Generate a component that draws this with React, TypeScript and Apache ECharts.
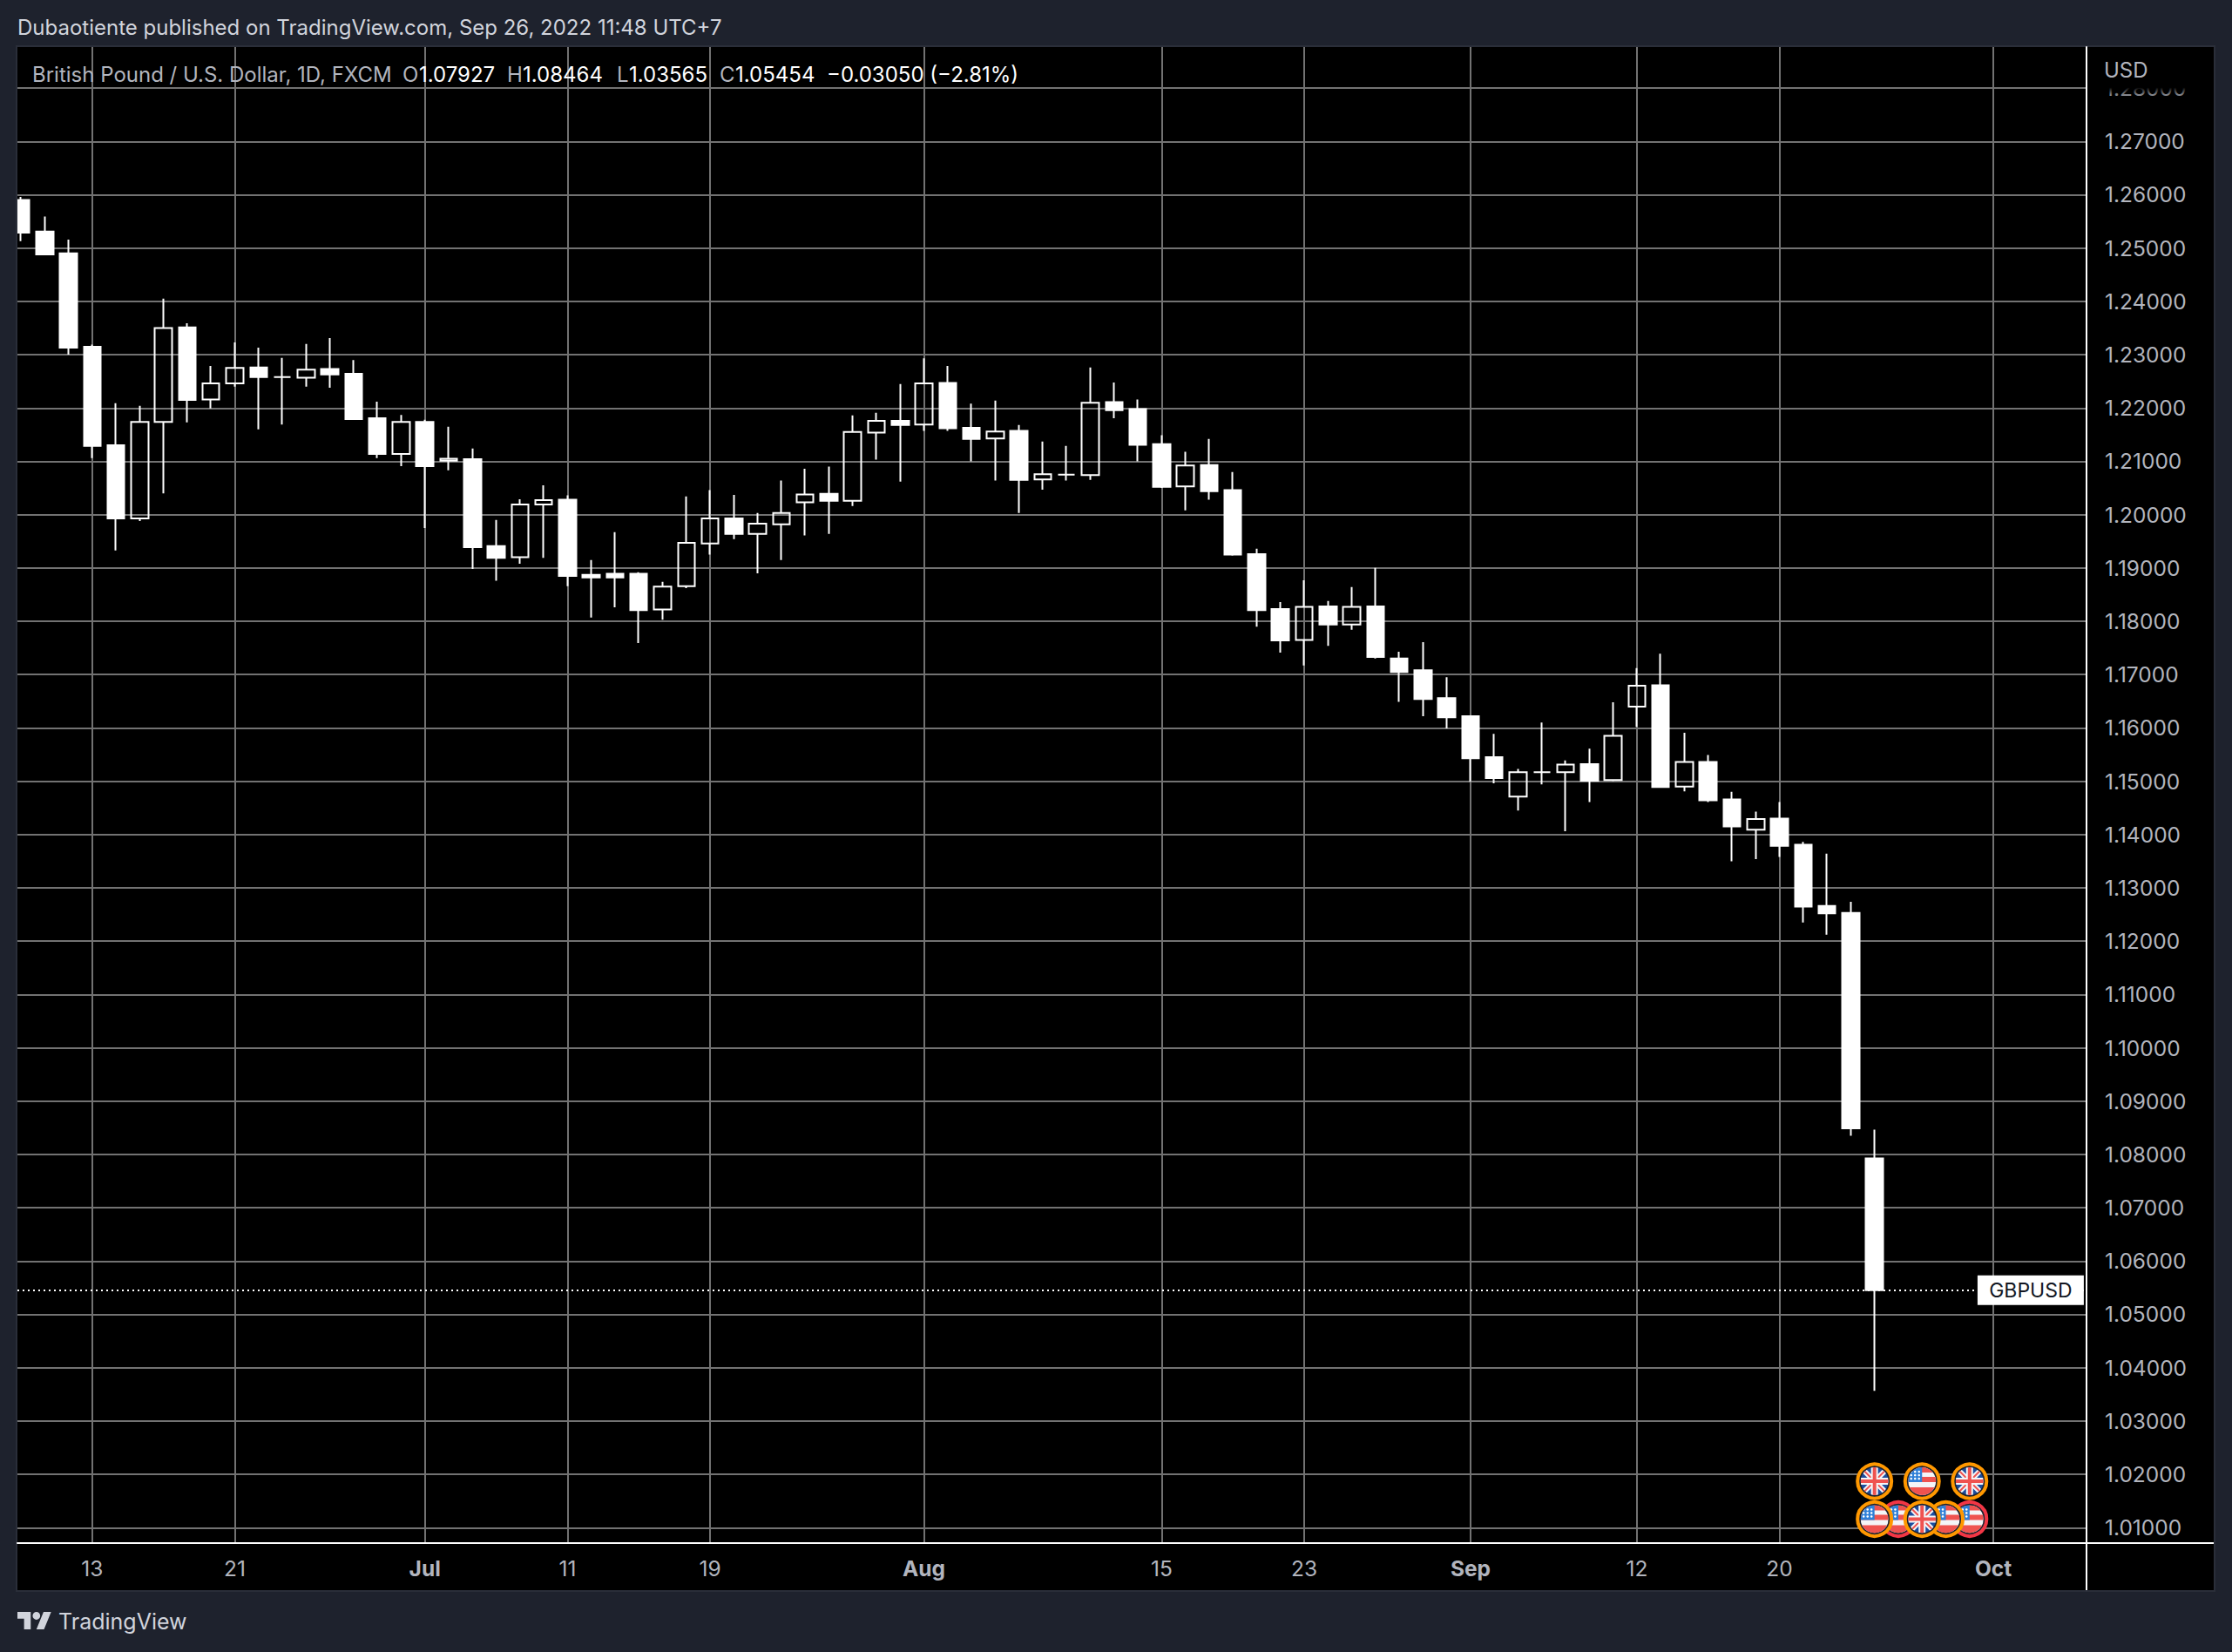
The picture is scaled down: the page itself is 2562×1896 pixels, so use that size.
import React, { useEffect, useRef } from "react";
import * as echarts from "echarts";

const opens = [1.2590,1.2531,1.2490,1.2315,1.2130,1.1993,1.2174,1.2351,1.2216,1.2246,1.2276,1.2258,1.2257,1.2273,1.2264,1.2181,1.2114,1.2174,1.2101,1.2104,1.1941,1.1920,1.2019,1.2028,1.1887,1.1889,1.1889,1.1822,1.1866,1.1946,1.1993,1.1964,1.1982,1.2023,1.2039,1.2026,1.2154,1.2176,1.2169,1.2247,1.2163,1.2143,1.2157,1.2066,1.2075,1.2074,1.2211,1.2198,1.2132,1.2053,1.2093,1.2046,1.1926,1.1823,1.1765,1.1828,1.1794,1.1828,1.1730,1.1708,1.1656,1.1622,1.1545,1.1471,1.1517,1.1517,1.1532,1.1502,1.1640,1.1680,1.1490,1.1536,1.1466,1.1409,1.1430,1.1381,1.1266,1.1253,1.07927];
const closes = [1.2529,1.2488,1.2313,1.2129,1.1993,1.2174,1.2350,1.2215,1.2246,1.2275,1.2258,1.2258,1.2272,1.2263,1.2179,1.2114,1.2174,1.2091,1.2105,1.1939,1.1919,1.2019,1.2027,1.1885,1.1882,1.1882,1.1821,1.1865,1.1947,1.1993,1.1964,1.1983,1.2003,1.2038,1.2026,1.2155,1.2176,1.2168,1.2246,1.2162,1.2142,1.2156,1.2065,1.2076,1.2075,1.2210,1.2196,1.2131,1.2052,1.2092,1.2044,1.1925,1.1821,1.1764,1.1827,1.1794,1.1827,1.1733,1.1705,1.1654,1.1620,1.1543,1.1506,1.1517,1.1517,1.1531,1.1501,1.1585,1.1679,1.1489,1.1536,1.1464,1.1415,1.1429,1.1379,1.1265,1.1252,1.0849,1.05454];
const lows = [1.2513,1.2487,1.2300,1.2106,1.1933,1.1988,1.2040,1.2173,1.2199,1.2240,1.2160,1.2169,1.2240,1.2238,1.2179,1.2106,1.2091,1.1975,1.2083,1.1898,1.1876,1.1908,1.1919,1.1866,1.1807,1.1826,1.1759,1.1803,1.1862,1.1925,1.1954,1.1890,1.1915,1.1961,1.1964,1.2016,1.2103,1.2062,1.2157,1.2157,1.2100,1.2064,1.2003,1.2047,1.2064,1.2065,1.2181,1.2100,1.2050,1.2008,1.2028,1.1923,1.1790,1.1741,1.1717,1.1754,1.1784,1.1730,1.1649,1.1622,1.1599,1.1499,1.1496,1.1445,1.1494,1.1406,1.1461,1.1500,1.1602,1.1489,1.1481,1.1461,1.1350,1.1354,1.1358,1.1235,1.1212,1.0835,1.03565];
const highs = [1.2596,1.2559,1.2516,1.2319,1.2209,1.2204,1.2405,1.2359,1.2279,1.2323,1.2313,1.2294,1.2320,1.2331,1.2290,1.2212,1.2187,1.2178,1.2165,1.2124,1.1990,1.2029,1.2055,1.2036,1.1915,1.1967,1.1892,1.1874,1.2034,1.2046,1.2037,1.2003,1.2064,1.2086,1.2090,1.2186,1.2191,1.2245,1.2293,1.2279,1.2208,1.2214,1.2168,1.2137,1.2129,1.2276,1.2248,1.2216,1.2149,1.2118,1.2142,1.2080,1.1936,1.1836,1.1877,1.1838,1.1864,1.1900,1.1743,1.1761,1.1695,1.1623,1.1589,1.1523,1.1610,1.1539,1.1561,1.1648,1.1712,1.1739,1.1591,1.1549,1.1480,1.1443,1.1461,1.1386,1.1364,1.1274,1.08464];

const lastPrice = 1.05454;
const priceTicks = [1.01,1.02,1.03,1.04,1.05,1.06,1.07,1.08,1.09,1.10,1.11,1.12,1.13,1.14,1.15,1.16,1.17,1.18,1.19,1.20,1.21,1.22,1.23,1.24,1.25,1.26,1.27,1.28];
const dateBars = [3,9,17,23,29,38,48,54,61,68,74,83];
const dateLabels = ["13","21","Jul","11","19","Aug","15","23","Sep","12","20","Oct"];
const monthLabels = ["Jul","Aug","Sep","Oct"];

const eventBars = [78,80,82,82,81,79,80,78];
const eventPrices = [1.0187,1.0187,1.0187,1.0116,1.0116,1.0116,1.0116,1.0116];
const eventFlags = ["uk","us","uk","us","us","us","uk","us"];
const eventRings = ["#ff9800","#ff9800","#ff9800","#f23645","#ff9800","#f23645","#ff9800","#ff9800"];

const titleParts: [string, number, string][] = [
  ["British Pound / U.S. Dollar, 1D, FXCM", 37, "#b2b5be"],
  ["O", 462, "#b2b5be"], ["1.07927", 481, "#ffffff"],
  ["H", 582, "#b2b5be"], ["1.08464", 600, "#ffffff"],
  ["L", 708, "#b2b5be"], ["1.03565", 722, "#ffffff"],
  ["C", 826, "#b2b5be"], ["1.05454", 844, "#ffffff"],
  ["\u22120.03050 (\u22122.81%)", 949, "#ffffff"],
];
const headerText = "Dubaotiente published on TradingView.com, Sep 26, 2022 11:48 UTC+7";

const FONT = "Inter, 'Noto Sans', sans-serif";
const LOGO = "M14 22H7V11H0V4h14v18zM28 22h-8l7.5-18h8L28 22zM24 8a4 4 0 1 1-8 0 4 4 0 0 1 8 0z";
echarts.graphic.registerShape("tvLogo", echarts.graphic.extendPath(LOGO, {}));

function flagChildren(kind: string): any[] {
  const R = 16;
  if (kind === "us") {
    const kids: any[] = [
      { type: "rect", shape: { x: -R, y: -R, width: 2 * R, height: 2 * R }, style: { fill: "#f4f5f7" } },
      { type: "rect", shape: { x: -R, y: -R, width: 2 * R, height: 6 }, style: { fill: "#ef5350" } },
      { type: "rect", shape: { x: -R, y: -5, width: 2 * R, height: 6 }, style: { fill: "#ef5350" } },
      { type: "rect", shape: { x: -R, y: 7, width: 2 * R, height: 10 }, style: { fill: "#ef5350" } },
      { type: "rect", shape: { x: -R, y: -R, width: 16, height: 17 }, style: { fill: "#2f80d8" } },
    ];
    [-11, -7, -3].forEach((y) => [-12.5, -8, -3.5].forEach((x) => {
      kids.push({ type: "circle", shape: { cx: x, cy: y, r: 1.3 }, style: { fill: "#ffffff" } });
    }));
    return kids;
  }
  const diag = (color: string, w: number) => [
    { type: "line", shape: { x1: -R, y1: -R, x2: R, y2: R }, style: { stroke: color, lineWidth: w } },
    { type: "line", shape: { x1: -R, y1: R, x2: R, y2: -R }, style: { stroke: color, lineWidth: w } },
  ];
  return [
    { type: "rect", shape: { x: -R, y: -R, width: 2 * R, height: 2 * R }, style: { fill: "#1c4d9e" } },
    ...diag("#f4f5f7", 6),
    ...diag("#ef5350", 2),
    { type: "rect", shape: { x: -4, y: -R, width: 8, height: 2 * R }, style: { fill: "#f4f5f7" } },
    { type: "rect", shape: { x: -R, y: -4, width: 2 * R, height: 8 }, style: { fill: "#f4f5f7" } },
    { type: "rect", shape: { x: -2, y: -R, width: 4, height: 2 * R }, style: { fill: "#ef5350" } },
    { type: "rect", shape: { x: -R, y: -2, width: 2 * R, height: 4 }, style: { fill: "#ef5350" } },
  ];
}

export default function App() {
  const ref = useRef<HTMLDivElement>(null);
  useEffect(() => {
    document.body.style.margin = "0";
    document.body.style.background = "#1e222d";
    const chart = echarts.init(ref.current!, undefined, { renderer: "svg" });
    const candles = opens.map((o, i) => [i, o, closes[i], lows[i], highs[i]]);
    const events = eventBars.map((b, i) => [b, eventPrices[i], i]);
    const GRID = "#727272";
    const LABEL = "#b2b5be";
    chart.setOption({
      animation: false,
      backgroundColor: "#1e222d",
      tooltip: { show: false },
      grid: { left: 20, right: 167, top: 54, bottom: 125, containLabel: false },
      xAxis: {
        type: "value",
        min: -0.1466,
        max: 86.92,
        axisLine: { show: true, onZero: false, lineStyle: { color: "#ffffff", width: 2 } },
        axisTick: { show: false, customValues: dateBars },
        splitLine: { show: true, lineStyle: { color: GRID, width: 2 } },
        axisLabel: {
          customValues: dateBars,
          margin: 16,
          fontFamily: FONT,
          fontSize: 24.5,
          color: LABEL,
          formatter: (v: number) => {
            const t = dateLabels[dateBars.indexOf(v)] ?? "";
            return monthLabels.includes(t) ? `{m|${t}}` : t;
          },
          rich: { m: { fontFamily: FONT, fontSize: 24.5, fontWeight: 700, color: LABEL } },
        },
      },
      yAxis: {
        type: "value",
        position: "right",
        min: 1.0071,
        max: 1.2877,
        axisLine: { show: true, onZero: false, lineStyle: { color: "#ffffff", width: 2 } },
        axisTick: { show: false, customValues: priceTicks },
        splitLine: { show: true, lineStyle: { color: GRID, width: 2 } },
        axisLabel: {
          customValues: priceTicks,
          margin: 21,
          padding: [3, 0, 0, 0],
          fontFamily: FONT,
          fontSize: 24.5,
          color: LABEL,
          showMinLabel: true,
          showMaxLabel: true,
          formatter: (v: number) => v.toFixed(5),
        },
      },
      series: [
        {
          type: "candlestick",
          data: candles,
          barWidth: 20,
          z: 3,
          itemStyle: {
            color: "rgba(0,0,0,0)",
            color0: "#ffffff",
            borderColor: "#ffffff",
            borderColor0: "#ffffff",
            borderColorDoji: "#ffffff",
            borderWidth: 2,
          },
          markLine: {
            silent: true,
            symbol: "none",
            precision: 5,
            label: { show: false },
            lineStyle: { type: [2, 4], color: "#ffffff", width: 2 },
            data: [{ yAxis: lastPrice }],
          },
          markPoint: {
            silent: true,
            symbol: "rect",
            symbolSize: [122, 34],
            itemStyle: { color: "#ffffff" },
            label: { show: true, position: "inside", formatter: "GBPUSD", color: "#131722", fontFamily: FONT, fontSize: 23 },
            data: [{ coord: [84.57, lastPrice] }],
          },
        },
        {
          type: "custom",
          data: events,
          encode: { x: 0, y: 1 },
          z: 6,
          renderItem: (_p: any, api: any) => {
            const [cx, cy] = api.coord([api.value(0), api.value(1)]);
            const i = api.value(2);
            return {
              type: "group",
              x: cx,
              y: cy,
              children: [
                { type: "circle", shape: { cx: 0, cy: 0, r: 19.5 }, style: { fill: "#1e222d", stroke: eventRings[i], lineWidth: 4 } },
                {
                  type: "group",
                  clipPath: { type: "circle", shape: { cx: 0, cy: 0, r: 16 } },
                  children: flagChildren(eventFlags[i]),
                },
              ],
            };
          },
        },
      ],
      graphic: [
        { type: "rect", z: -10, silent: true, shape: { x: 19, y: 53, width: 2523, height: 1773 }, style: { fill: "#000000", stroke: "#2a2e39", lineWidth: 2 } },
        { type: "rect", z: 4, silent: true, shape: { x: 0, y: 54, width: 18, height: 600 }, style: { fill: "#1e222d" } },
        { type: "line", z: 4, silent: true, shape: { x1: 19, y1: 54, x2: 19, y2: 654 }, style: { stroke: "#2a2e39", lineWidth: 2 } },
        { type: "line", z: 5, silent: true, shape: { x1: 2395, y1: 1771, x2: 2395, y2: 1825 }, style: { stroke: "#ffffff", lineWidth: 2 } },
        { type: "line", z: 5, silent: true, shape: { x1: 2395, y1: 1771, x2: 2541, y2: 1771 }, style: { stroke: "#ffffff", lineWidth: 2 } },
        {
          type: "rect", z: 10, silent: true,
          shape: { x: 2398, y: 54, width: 142, height: 58 },
          style: { fill: { type: "linear", x: 0, y: 0, x2: 0, y2: 1, colorStops: [{ offset: 0, color: "#000000" }, { offset: 0.8, color: "#000000" }, { offset: 1, color: "rgba(0,0,0,0)" }] } },
        },
        { type: "text", z: 11, silent: true, x: 2415, y: 80, style: { text: "USD", fill: LABEL, fontFamily: FONT, fontSize: 24, verticalAlign: "middle" } },
        { type: "text", z: 11, silent: true, x: 20, y: 31, style: { text: headerText, fill: "#d1d4dc", fontFamily: FONT, fontSize: 24, verticalAlign: "middle" } },
        ...titleParts.map(([text, x, fill]) => ({
          type: "text", z: 11, silent: true, x, y: 85,
          style: { text, fill, fontFamily: FONT, fontSize: 24, verticalAlign: "middle" },
        })),
        { type: "tvLogo", z: 11, silent: true, x: 20, y: 1845.6, scaleX: 1.09, scaleY: 1.11, style: { fill: "#d1d4dc" } },
        { type: "text", z: 11, silent: true, x: 67, y: 1861, style: { text: "TradingView", fill: "#d1d4dc", fontFamily: FONT, fontSize: 25, verticalAlign: "middle" } },
      ],
    });
    return () => chart.dispose();
  }, []);
  return <div ref={ref} style={{ width: 2562, height: 1896 }} />;
}
